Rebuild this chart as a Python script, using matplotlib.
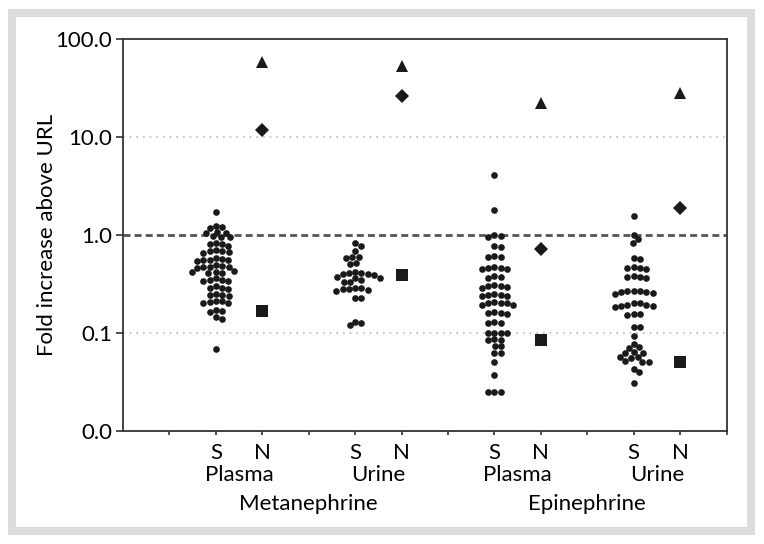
import numpy as np
import matplotlib
matplotlib.use("Agg")
import matplotlib.pyplot as plt
import matplotlib.transforms as mtransforms
from matplotlib.patches import Rectangle

plt.rcParams['font.family'] = ['Lato', 'DejaVu Sans']

# x positions of the S / N columns
s_pos = [2, 5, 8, 11]
n_pos = [3, 6, 9, 12]
sub_labels = ['Plasma', 'Urine', 'Plasma', 'Urine']
group_labels = ['Metanephrine', 'Epinephrine']
group_pos = [4, 10]

# individual patients (fold increase above URL)
met_plasma = [1.73,
              1.25, 1.2, 1.18,
              1.08, 1.06, 1.04,
              0.97, 0.96, 0.95,
              0.82, 0.8, 0.8, 0.78,
              0.7, 0.68, 0.68, 0.67, 0.66,
              0.58, 0.57, 0.56, 0.56, 0.55, 0.54,
              0.49, 0.48, 0.475, 0.47, 0.47, 0.46,
              0.43, 0.42, 0.42, 0.41, 0.41,
              0.36, 0.35, 0.35, 0.34, 0.34,
              0.3, 0.29, 0.29, 0.28,
              0.25, 0.245, 0.245, 0.24,
              0.21, 0.21, 0.205, 0.2, 0.2,
              0.17, 0.168, 0.165,
              0.145, 0.14,
              0.068]
met_urine = [0.82, 0.78,
             0.68,
             0.6, 0.59, 0.58,
             0.52, 0.5,
             0.42, 0.41, 0.41, 0.4, 0.4, 0.39,
             0.37, 0.36, 0.36, 0.35,
             0.33, 0.33,
             0.29, 0.285, 0.28, 0.28, 0.275, 0.27,
             0.23, 0.225,
             0.13, 0.125, 0.12]
epi_plasma = [4.1, 1.81,
              1.0, 0.97, 0.95,
              0.77, 0.75,
              0.61, 0.6, 0.59,
              0.47, 0.46, 0.46, 0.45, 0.45,
              0.38, 0.37, 0.36,
              0.31, 0.3, 0.3, 0.295, 0.29,
              0.25, 0.245, 0.245, 0.24, 0.24,
              0.205, 0.2, 0.2, 0.2, 0.195, 0.195,
              0.165, 0.16, 0.16, 0.155,
              0.128, 0.127, 0.126,
              0.101, 0.1, 0.1, 0.099,
              0.086, 0.085, 0.084,
              0.074, 0.073,
              0.063, 0.062,
              0.05, 0.037,
              0.025, 0.025, 0.025]
epi_urine = [1.55,
             1.0, 0.9, 0.82,
             0.58, 0.57,
             0.47, 0.46, 0.46, 0.45,
             0.38, 0.37, 0.37, 0.36,
             0.27, 0.27, 0.265, 0.26, 0.26, 0.255, 0.25,
             0.2, 0.2, 0.195, 0.195, 0.19, 0.19, 0.185,
             0.156, 0.155, 0.154,
             0.116, 0.114,
             0.092, 0.077,
             0.071, 0.07,
             0.064, 0.063, 0.062,
             0.057, 0.057, 0.056,
             0.052, 0.051, 0.05,
             0.043, 0.04, 0.031]
s_values = [met_plasma, met_urine, epi_plasma, epi_urine]

# special cases (N columns)
n_triangle = [58.0, 53.5, 22.4, 28.3]
n_diamond = [11.9, 26.3, 0.72, 1.9]
n_square = [0.168, 0.39, 0.085, 0.051]

fig = plt.figure(figsize=(7.64, 5.44), dpi=100)
ax = fig.add_axes([0.161, 0.208, 0.790, 0.720])
ax.set_yscale('log')
ax.set_ylim(0.01, 100)
ax.set_xlim(0, 13)


def swarm_offsets(vals, x0, d):
    # simple beeswarm in pixel space
    pts = ax.transData.transform(np.column_stack([np.full(len(vals), x0), vals]))
    ys = pts[:, 1]
    order = np.argsort(-ys)
    xs = np.zeros(len(vals))
    placed = []
    for i in order:
        yi = ys[i]
        cands = [0.0]
        for (xj, yj) in placed:
            dy = abs(yi - yj)
            if dy < d:
                dx = np.sqrt(d * d - dy * dy)
                cands += [xj + dx, xj - dx]
        cands.sort(key=abs)
        for c in cands:
            ok = True
            for (xj, yj) in placed:
                if (c - xj) ** 2 + (yi - yj) ** 2 < d * d - 1e-6:
                    ok = False
                    break
            if ok:
                xs[i] = c
                break
        placed.append((xs[i], yi))
    px_per_unit = ax.transData.transform((1, 1))[0] - ax.transData.transform((0, 1))[0]
    return x0 + xs / px_per_unit


for xp, vals in zip(s_pos, s_values):
    xs = swarm_offsets(vals, xp, 6.4)
    ax.plot(xs, vals, 'o', color='#1a1a1a', ms=4.8, mew=0, zorder=3)

ax.plot(n_pos, n_triangle, '^', color='#1a1a1a', ms=9, mew=0, zorder=3)
ax.plot(n_pos, n_diamond, 'D', color='#1a1a1a', ms=7.6, mew=0, zorder=3)
ax.plot(n_pos, n_square, 's', color='#1a1a1a', ms=8, mew=0, zorder=3)

# reference lines
ax.axhline(1.0, color='#555555', lw=2, ls=(0, (2.5, 1.5)), zorder=1)
for yv in [0.1, 10]:
    ax.axhline(yv, color='#bbbbbb', lw=1.2, ls=(0, (1, 3)), zorder=1)

ax.set_yticks([0.01, 0.1, 1, 10, 100])
ax.set_yticklabels(['0.0', '0.1', '1.0', '10.0', '100.0'], fontsize=16)
ax.yaxis.set_minor_locator(matplotlib.ticker.NullLocator())
ax.set_xticks(range(1, 14))
xt = [''] * 13
for p in s_pos:
    xt[p - 1] = 'S'
for p in n_pos:
    xt[p - 1] = 'N'
ax.set_xticklabels(xt, fontsize=16)
ax.tick_params(axis='y', length=5, width=1.2, color='#333333', pad=3)
ax.tick_params(axis='x', length=3, width=1.2, color='#333333', pad=6)
for sp in ax.spines.values():
    sp.set_color('#333333')
    sp.set_linewidth(1.3)

ax.set_ylabel('Fold increase above URL', fontsize=16, labelpad=-1)

trans = mtransforms.blended_transform_factory(ax.transData, fig.transFigure)
for p, lab in zip(s_pos, sub_labels):
    ax.text(p + 0.5, 1 - 475 / 544, lab, transform=trans, ha='center', va='center', fontsize=16)
for p, lab in zip(group_pos, group_labels):
    ax.text(p, 1 - 504 / 544, lab, transform=trans, ha='center', va='center', fontsize=16)

# grey frame
fig.add_artist(Rectangle((12 / 764, 1 - 531 / 544), 739 / 764, 518 / 544,
                         transform=fig.transFigure, fill=False, lw=5.8, ec='#dcdcdc'))

fig.savefig('out.png', dpi=100)
